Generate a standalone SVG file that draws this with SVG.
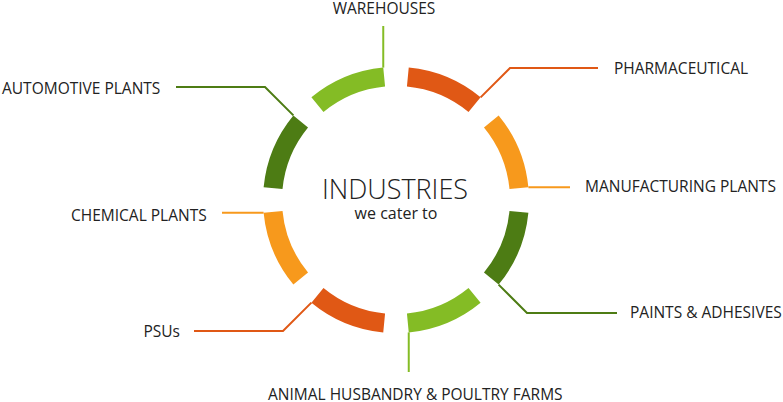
<svg xmlns="http://www.w3.org/2000/svg" width="783" height="402" viewBox="0 0 783 402">
<style>
  .seg{fill:none;stroke-width:19;stroke-linecap:butt}
  .lg{stroke:#84bc25}
  .dg{stroke:#4d7c14}
  .ro{stroke:#e05815}
  .or{stroke:#f7991c}
  .ln{fill:none;stroke-width:2}
  .lbl{font-family:"Open Sans","Noto Sans","DejaVu Sans",sans-serif;font-size:15.5px;fill:#222}
  .title{font-family:"Open Sans","Noto Sans","DejaVu Sans",sans-serif;font-size:27px;font-weight:300;fill:#222}
  .sub{font-family:"Open Sans","Noto Sans","DejaVu Sans",sans-serif;font-size:16px;fill:#222}
</style>
<rect width="783" height="402" fill="#fff"/>
<g id="connectors">
  <polyline class="ln lg" points="383.25,67.6 383.25,26"/>
  <polyline class="ln ro" points="480.6,97.4 510,68 598,68"/>
  <polyline class="ln or" points="528.4,187.25 570,187.25"/>
  <polyline class="ln dg" points="498.6,284.6 527,313 617,313"/>
  <polyline class="ln lg" points="408.75,332.4 408.75,372"/>
  <polyline class="ln ro" points="311.4,302.6 283,331 194,331"/>
  <polyline class="ln or" points="263.6,212.75 222,212.75"/>
  <polyline class="ln dg" points="293.4,115.4 265,87 176,87"/>
</g>
<g id="center">
  <text class="title" x="395" y="199" text-anchor="middle">INDUSTRIES</text>
  <text class="sub" x="396" y="219" text-anchor="middle">we cater to</text>
</g>
<g id="warehouses">
  <path class="seg lg" d="M317.44,104.70 A123.5,123.5 0 0 1 384.16,77.07"/>
  <text class="lbl" x="384" y="13.5" text-anchor="middle">WAREHOUSES</text>
</g>
<g id="pharmaceutical">
  <path class="seg ro" d="M407.84,77.07 A123.5,123.5 0 0 1 474.56,104.70"/>
  <text class="lbl" x="614" y="74">PHARMACEUTICAL</text>
</g>
<g id="manufacturing">
  <path class="seg or" d="M491.30,121.44 A123.5,123.5 0 0 1 518.93,188.16"/>
  <text class="lbl" x="585" y="192">MANUFACTURING PLANTS</text>
</g>
<g id="paints">
  <path class="seg dg" d="M518.93,211.84 A123.5,123.5 0 0 1 491.30,278.56"/>
  <text class="lbl" x="630" y="318">PAINTS &amp; ADHESIVES</text>
</g>
<g id="animal">
  <path class="seg lg" d="M474.56,295.30 A123.5,123.5 0 0 1 407.84,322.93"/>
  <text class="lbl" x="268" y="399.5">ANIMAL HUSBANDRY &amp; POULTRY FARMS</text>
</g>
<g id="psus">
  <path class="seg ro" d="M384.16,322.93 A123.5,123.5 0 0 1 317.44,295.30"/>
  <text class="lbl" x="180" y="337" text-anchor="end">PSUs</text>
</g>
<g id="chemical">
  <path class="seg or" d="M300.70,278.56 A123.5,123.5 0 0 1 273.07,211.84"/>
  <text class="lbl" x="71" y="220.5">CHEMICAL PLANTS</text>
</g>
<g id="automotive">
  <path class="seg dg" d="M273.07,188.16 A123.5,123.5 0 0 1 300.70,121.44"/>
  <text class="lbl" x="2" y="94">AUTOMOTIVE PLANTS</text>
</g>
</svg>
